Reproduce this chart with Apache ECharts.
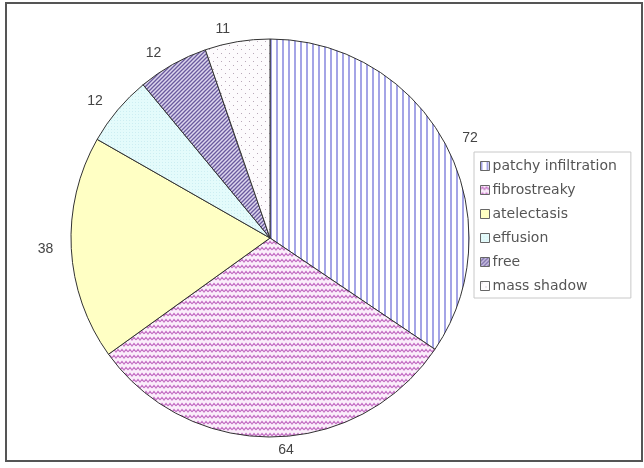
<!DOCTYPE html>
<html>
<head>
<meta charset="utf-8">
<script src="https://cdn.jsdelivr.net/npm/echarts@6/dist/echarts.min.js"></script>
<style>
html, body { margin: 0; padding: 0; background: #fff; }
#main { width: 644px; height: 468px; }
</style>
</head>
<body>
<div id="main"></div>
<script>
// chart data
var categories = ["patchy infiltration", "fibrostreaky", "atelectasis", "effusion", "free", "mass shadow"];
var values = [72, 64, 38, 12, 12, 11];

// small canvas tiles used as fill patterns
function make_tile(w, h, draw)
{
    var c = document.createElement("canvas");
    c.width = w;
    c.height = h;
    var ctx = c.getContext("2d");
    draw(ctx, w, h);
    return { image: c, repeat: "repeat" };
}

var fills = [
    make_tile(6, 6, function(ctx, w, h) {
        ctx.fillStyle = "#ffffff"; ctx.fillRect(0, 0, w, h);
        ctx.fillStyle = "#a4a4e6"; ctx.fillRect(0, 0, 2, h);
    }),
    make_tile(8, 6, function(ctx, w, h) {
        ctx.fillStyle = "#fbeefb"; ctx.fillRect(0, 0, w, h);
        ctx.strokeStyle = "#c46fc4"; ctx.lineWidth = 1.2;
        ctx.beginPath();
        ctx.moveTo(0, 4); ctx.lineTo(2, 1.5); ctx.lineTo(4, 4); ctx.lineTo(6, 1.5); ctx.lineTo(8, 4);
        ctx.stroke();
    }),
    "#ffffc4",
    make_tile(3, 3, function(ctx, w, h) {
        ctx.fillStyle = "#e4fbfb"; ctx.fillRect(0, 0, w, h);
        ctx.fillStyle = "#cdeef2"; ctx.fillRect(0, 0, 1, 1);
    }),
    make_tile(4, 4, function(ctx, w, h) {
        ctx.fillStyle = "#ddd6ee"; ctx.fillRect(0, 0, w, h);
        ctx.strokeStyle = "#6a5a9e"; ctx.lineWidth = 1.3;
        ctx.beginPath();
        ctx.moveTo(-1, 5); ctx.lineTo(5, -1);
        ctx.moveTo(-1, 1); ctx.lineTo(1, -1);
        ctx.moveTo(3, 5); ctx.lineTo(5, 3);
        ctx.stroke();
    }),
    make_tile(8, 8, function(ctx, w, h) {
        ctx.fillStyle = "#fdfbfd"; ctx.fillRect(0, 0, w, h);
        ctx.fillStyle = "#b9a9b9";
        ctx.fillRect(1, 1, 1, 1);
        ctx.fillRect(5, 5, 1, 1);
    })
];

var pie_data = [];
for (var i = 0; i < categories.length; i++)
{
    pie_data.push({
        name: categories[i],
        value: values[i],
        itemStyle: { color: fills[i] }
    });
}

var chart = echarts.init(document.getElementById("main"));
chart.setOption({
    animation: false,
    backgroundColor: "#ffffff",
    graphic: [{
        type: "rect",
        shape: { x: 6, y: 3, width: 636, height: 458 },
        style: { fill: "none", stroke: "#555", lineWidth: 2 }
    }],
    legend: {
        orient: "vertical",
        left: 474,
        top: 152,
        padding: [7, 14, 5, 6],
        itemWidth: 9,
        itemHeight: 9,
        itemGap: 10,
        icon: "rect",
        borderColor: "#c8c8c8",
        borderWidth: 1,
        textStyle: { fontFamily: "DejaVu Sans", fontSize: 14, color: "#555", padding: [0, 0, 0, -2] },
        itemStyle: { borderColor: "#666", borderWidth: 1 },
        data: categories
    },
    series: [{
        type: "pie",
        center: [270, 238],
        radius: 199,
        startAngle: 90,
        clockwise: true,
        avoidLabelOverlap: false,
        itemStyle: { borderColor: "#333", borderWidth: 1 },
        label: {
            show: true,
            position: "outside",
            formatter: "{c}",
            fontFamily: "Liberation Sans",
            fontSize: 14,
            color: "#444"
        },
        labelLine: { show: false, length: 13, length2: 0 },
        emphasis: { disabled: true },
        data: pie_data
    }]
});
</script>
</body>
</html>
